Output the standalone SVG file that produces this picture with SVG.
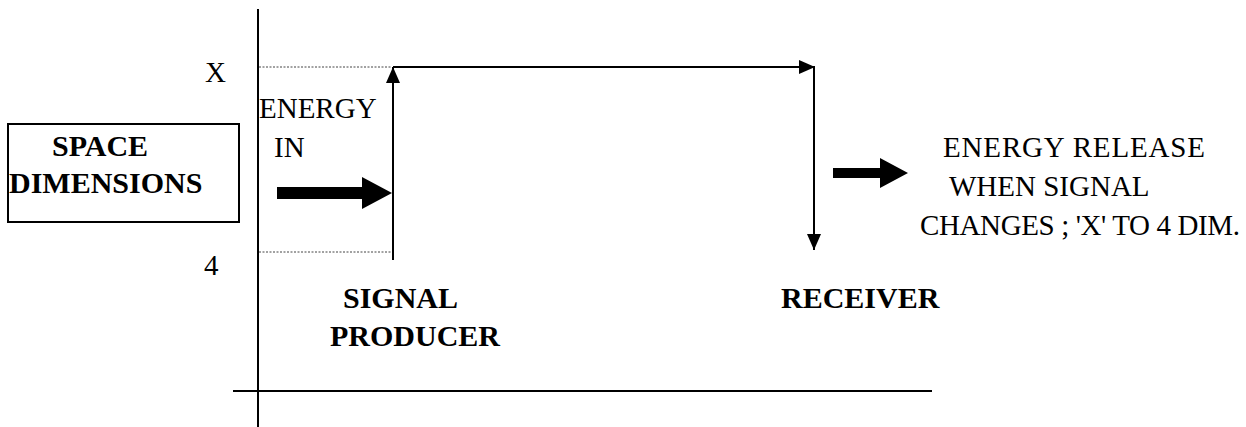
<svg xmlns="http://www.w3.org/2000/svg" width="1246" height="427" viewBox="0 0 1246 427">
<style>
text{font-family:'Liberation Serif','Times New Roman',serif;font-size:29px;fill:#000}
.b{font-weight:bold;font-size:30px}
.ln{stroke:#000;stroke-width:2;fill:none}
.dot{stroke:#444;stroke-width:1;stroke-dasharray:2 1.5;fill:none}
.box{stroke:#000;stroke-width:2;fill:#fff}
</style>
<defs>
<marker id="ah" markerUnits="userSpaceOnUse" viewBox="0 0 16 14" refX="16" refY="7" markerWidth="16" markerHeight="14" orient="auto">
<path d="M0,0 L16,7 L0,14 Z" fill="#000"/>
</marker>
</defs>
<rect width="1246" height="427" fill="#fff"/>
<g id="axes">
<line class="ln" x1="258" y1="9" x2="258" y2="427"/>
<line class="ln" x1="233" y1="391" x2="932" y2="391"/>
<line class="dot" x1="259" y1="67" x2="392" y2="67"/>
<line class="dot" x1="259" y1="252" x2="392" y2="252"/>
<text x="205" y="82">X</text>
<text x="204" y="275">4</text>
</g>
<g id="space-dimensions">
<rect class="box" x="8" y="124" width="231" height="98"/>
<text class="b" x="52" y="156">SPACE</text>
<text class="b" x="9" y="193">DIMENSIONS</text>
</g>
<g id="energy-in">
<text x="259" y="118">ENERGY</text>
<text x="274" y="157">IN</text>
</g>
<g id="signal-producer">
<text class="b" x="343" y="308">SIGNAL</text>
<text class="b" x="330" y="346">PRODUCER</text>
</g>
<g id="receiver">
<text class="b" x="781" y="308">RECEIVER</text>
</g>
<g id="energy-release">
<text x="943" y="157" textLength="262">ENERGY RELEASE</text>
<text x="949" y="196">WHEN SIGNAL</text>
<text x="920" y="235" textLength="320">CHANGES ; 'X' TO 4 DIM.</text>
</g>
<g id="connectors">
<line class="ln" x1="393" y1="260" x2="393" y2="67" marker-end="url(#ah)"/>
<line class="ln" x1="393" y1="67" x2="815" y2="67" marker-end="url(#ah)"/>
<line class="ln" x1="814" y1="67" x2="814" y2="250" marker-end="url(#ah)"/>
<path d="M277,187 H362 V177 L392,193 L362,209 V199 H277 Z" fill="#000"/>
<path d="M833,168 H880 V158 L908,173 L880,188 V178 H833 Z" fill="#000"/>
</g>
</svg>
